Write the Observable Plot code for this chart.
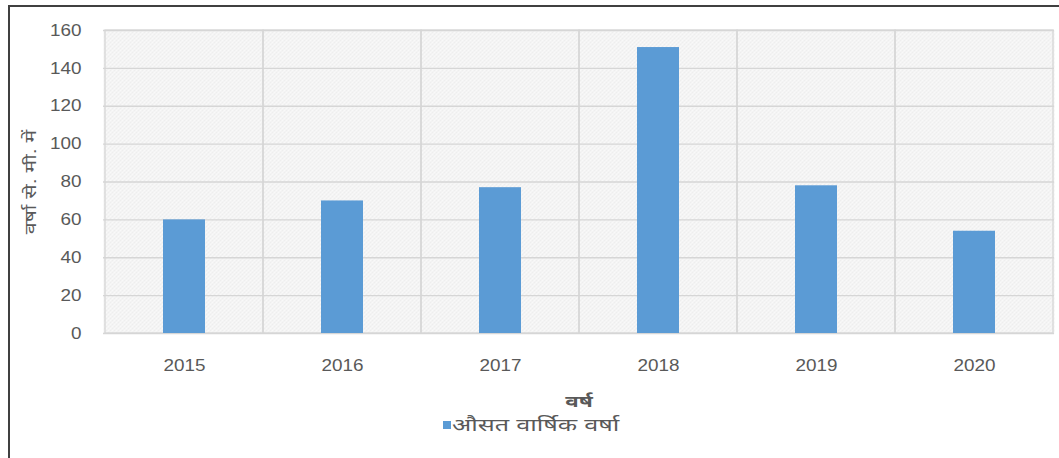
<!DOCTYPE html>
<html>
<head>
<meta charset="utf-8">
<script src="https://cdn.jsdelivr.net/npm/d3@7"></script>
<script src="https://cdn.jsdelivr.net/npm/@observablehq/plot@0.6"></script>
<style>
  html, body { margin: 0; padding: 0; background: #fff; overflow: hidden; }
  #wrap { position: relative; width: 1059px; height: 458px; font-family: "Liberation Sans", "Noto Sans", sans-serif; }
  #border { position: absolute; left: 8px; top: 5px; width: 1100px; height: 500px; border-left: 2px solid #404040; border-top: 2px solid #404040; box-sizing: border-box; pointer-events: none; }
  #legend { position: absolute; left: 443px; top: 413px; font-size: 18px; line-height: 24px; color: #595959; white-space: nowrap; }
  #legend .sw { position: absolute; left: 0; top: 8px; width: 8px; height: 8px; background: #5b9bd5; }
  #legend .lt { position: absolute; left: 9px; top: 0; display: inline-block; transform: scaleX(1.4); transform-origin: left center; }
</style>
</head>
<body>
<div id="wrap">
  <div id="chart"></div>
  <div id="border"></div>
  <div id="legend"><span class="sw"></span><span class="lt" id="legendText"></span></div>
</div>
<script>
const years = ["2015", "2016", "2017", "2018", "2019", "2020"];
const rainfall = [60, 70, 77, 151, 78, 54];
const yTicks = [0, 20, 40, 60, 80, 100, 120, 140, 160];
const yTitle = "वर्षा से. मी. में";
const xTitle = "वर्ष";
const seriesName = "औसत वार्षिक वर्षा";

const data = years.map((y, i) => ({year: y, value: rainfall[i]}));

const chart = Plot.plot({
  width: 1059,
  height: 415,
  marginLeft: 103,
  marginRight: 5,
  marginTop: 30,
  marginBottom: 82,
  style: {fontFamily: "'Liberation Sans', 'Noto Sans', sans-serif", fontSize: "16px", color: "#595959", background: "transparent"},
  x: {domain: years, padding: 0, label: null, tickSize: 0, tickPadding: 26},
  y: {domain: [0, 160], ticks: yTicks, label: null, tickSize: 0, tickPadding: 22},
  marks: [
    Plot.frame({fill: "url(#hatch)", stroke: "none"}),
    Plot.ruleY(yTicks, {stroke: "#d6d6d6", strokeWidth: 1.3}),
    Plot.barY(years, {x: d => d, y1: 0, y2: 160, fill: "none", stroke: "#d6d6d6", strokeWidth: 1.3}),
    Plot.barY(data, {x: "year", y: "value", fill: "#5b9bd5", insetLeft: 58, insetRight: 58}),
    Plot.text([yTitle], {text: d => d, frameAnchor: "left", textAnchor: "middle", dx: -73, rotate: -90, fontSize: 16, fill: "#595959"}),
    Plot.text([xTitle], {text: d => d, frameAnchor: "bottom", dy: 73, fontSize: 16, fontWeight: "bold", fill: "#595959"})
  ]
});

chart.insertAdjacentHTML("afterbegin",
  '<defs><pattern id="hatch" patternUnits="userSpaceOnUse" width="4" height="4">' +
  '<rect width="4" height="4" fill="#f9f9f9"/>' +
  '<path d="M-1,1 l2,-2 M0,4 l4,-4 M3,5 l2,-2" stroke="#e6e6e6" stroke-width="0.8"/>' +
  '<path d="M-1,3 l2,2 M0,0 l4,4 M3,-1 l2,2" stroke="#ececec" stroke-width="0.6"/>' +
  '</pattern></defs>');

// horizontally stretch text glyphs to match the reference's wide lettering
function stretchEl(t, sx) {
  let tr = t.getAttribute("transform");
  if (!tr) {
    const x = t.getAttribute("x") || 0, y = t.getAttribute("y") || 0;
    t.removeAttribute("x"); t.removeAttribute("y");
    tr = `translate(${x},${y})`;
  }
  t.setAttribute("transform", `${tr} scale(${sx},1)`);
}
chart.querySelectorAll('g[aria-label="x-axis tick label"] text, g[aria-label="y-axis tick label"] text')
  .forEach(t => stretchEl(t, 1.18));
chart.querySelectorAll("text").forEach(t => {
  if (t.textContent === yTitle) stretchEl(t, 1.33);
  else if (t.textContent === xTitle) stretchEl(t, 1.4);
});

document.getElementById("chart").appendChild(chart);
document.getElementById("legendText").textContent = seriesName;
</script>
</body>
</html>
